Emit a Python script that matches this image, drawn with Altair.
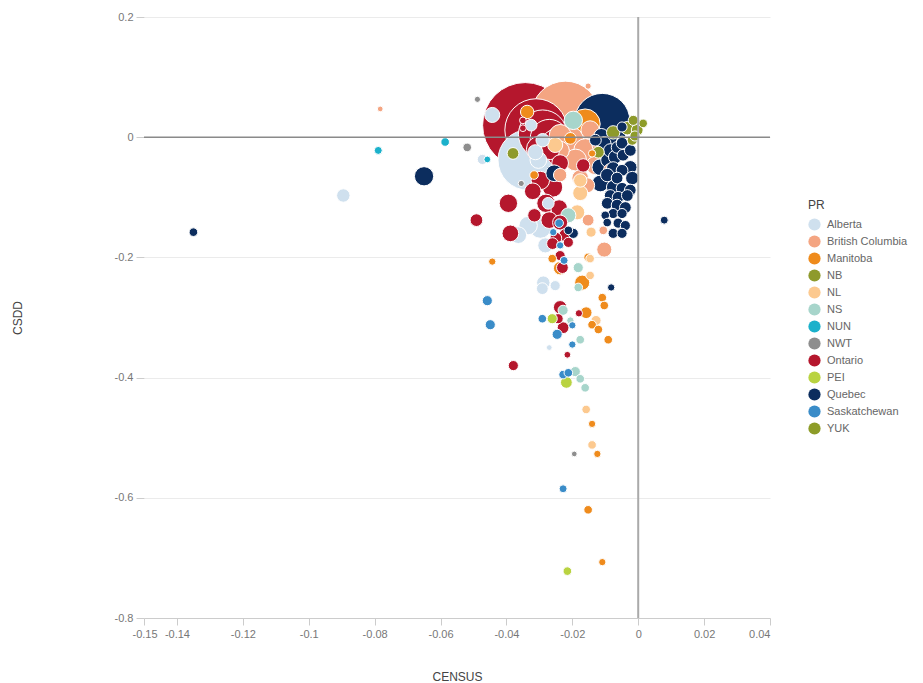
import altair as alt
import pandas as pd

# (CENSUS, CSDD, POP) per province
ALBERTA = [(-0.0334, -0.038, 1400), (-0.0443, 0.037, 78), (-0.0473, -0.037, 30), (-0.0895, -0.097, 60),
           (-0.0325, 0.020, 44), (-0.0312, -0.025, 78), (-0.0290, -0.005, 60), (-0.0297, -0.150, 175),
           (-0.0334, -0.147, 121), (-0.0364, -0.163, 98), (-0.0282, -0.180, 78), (-0.0288, -0.242, 60),
           (-0.0252, -0.247, 30), (-0.0291, -0.252, 44), (-0.0270, -0.350, 3), (-0.0303, -0.038, 98),
           (-0.0273, -0.110, 44)]
BRITISH_COLUMBIA = [(-0.0221, 0.037, 1760), (-0.0206, -0.005, 273), (-0.0160, -0.022, 205), (-0.0237, 0.003, 175),
                    (-0.0130, -0.047, 121), (-0.0190, -0.038, 175), (-0.0237, -0.022, 121), (-0.0115, -0.013, 98),
                    (-0.0146, 0.012, 121), (-0.0176, -0.068, 98), (-0.0085, -0.055, 60), (-0.0155, -0.080, 78),
                    (-0.0237, -0.063, 60), (-0.0152, -0.138, 44), (-0.0103, -0.187, 78), (-0.0152, 0.085, 5),
                    (-0.0783, 0.047, 3), (-0.0106, -0.155, 19)]
MANITOBA = [(-0.0443, -0.207, 11), (-0.0261, -0.202, 19), (-0.0237, -0.218, 60), (-0.0152, -0.200, 19),
            (-0.0170, -0.242, 78), (-0.0109, -0.267, 19), (-0.0103, -0.280, 19), (-0.0158, -0.292, 44),
            (-0.0140, -0.312, 19), (-0.0121, -0.320, 19), (-0.0091, -0.337, 19), (-0.0140, -0.477, 11),
            (-0.0124, -0.527, 11), (-0.0152, -0.620, 19), (-0.0109, -0.707, 11), (-0.0161, 0.022, 340),
            (-0.0337, 0.042, 60), (-0.0316, -0.063, 19), (-0.0140, -0.027, 11), (-0.0206, -0.002, 44)]
NB = [(-0.0076, 0.008, 60), (-0.0033, 0.015, 60), (-0.0015, 0.028, 30), (-0.0049, -0.008, 44),
      (-0.0018, -0.005, 30), (-0.0121, -0.025, 44), (-0.0380, -0.027, 44)]
NL = [(-0.0158, -0.453, 19), (-0.0140, -0.512, 19), (-0.0146, -0.202, 19), (-0.0146, -0.230, 19),
      (-0.0128, -0.305, 30), (-0.0176, -0.093, 78), (-0.0176, -0.072, 60), (-0.0185, -0.125, 78),
      (-0.0252, -0.013, 78), (-0.0143, -0.158, 30)]
NS = [(-0.0197, 0.028, 121), (-0.0212, -0.130, 78), (-0.0182, -0.217, 30), (-0.0182, -0.250, 19),
      (-0.0176, -0.337, 19), (-0.0206, -0.305, 11), (-0.0176, -0.402, 19), (-0.0161, -0.417, 19),
      (-0.0191, -0.390, 30), (-0.0228, -0.288, 30)]
NUN = [(-0.0789, -0.022, 15), (-0.0586, -0.008, 19), (-0.0458, -0.037, 8)]
NWT = [(-0.0519, -0.017, 19), (-0.0488, 0.063, 5), (-0.0355, -0.077, 5), (-0.0194, -0.527, 3)]
ONTARIO = [(-0.0343, 0.020, 2800), (-0.0310, 0.012, 1500), (-0.0290, 0.005, 900), (-0.0270, -0.002, 550),
           (-0.0250, -0.010, 300), (-0.0300, -0.020, 250), (-0.0240, -0.030, 200), (-0.0267, -0.022, 121),
           (-0.0237, -0.043, 98), (-0.0297, -0.072, 121), (-0.0260, -0.083, 150), (-0.0280, -0.110, 121),
           (-0.0240, -0.118, 98), (-0.0270, -0.138, 98), (-0.0237, -0.142, 78), (-0.0220, -0.163, 60),
           (-0.0250, -0.168, 44), (-0.0167, -0.047, 60), (-0.0394, -0.110, 121), (-0.0491, -0.138, 53),
           (-0.0388, -0.160, 98), (-0.0379, -0.380, 30), (-0.0215, -0.362, 8), (-0.0237, -0.283, 60),
           (-0.0228, -0.317, 44), (-0.0243, -0.302, 30), (-0.0260, -0.177, 44), (-0.0212, -0.175, 30),
           (-0.0237, -0.197, 30), (-0.0230, -0.217, 44), (-0.0180, -0.293, 11), (-0.0350, 0.028, 8),
           (-0.0350, 0.015, 8), (-0.0320, -0.090, 98), (-0.0315, -0.130, 60)]
PEI = [(-0.0218, -0.408, 44), (-0.0261, -0.302, 30), (-0.0215, -0.722, 19)]
QUEBEC = [(-0.0109, 0.027, 1168), (-0.1350, -0.158, 19), (-0.0650, -0.065, 134), (0.0079, -0.138, 15),
          (-0.0255, -0.060, 98), (-0.0197, -0.160, 30), (-0.0212, -0.155, 19), (-0.0082, -0.250, 11),
          (-0.0130, -0.005, 44), (-0.0049, 0.017, 30),
          (-0.0112, 0.002, 78), (-0.0103, -0.010, 60), (-0.0085, -0.022, 60), (-0.0064, -0.017, 44),
          (-0.0049, -0.010, 44), (-0.0091, -0.038, 78), (-0.0070, -0.033, 60), (-0.0046, -0.030, 44),
          (-0.0024, -0.022, 44), (-0.0115, -0.050, 98), (-0.0076, -0.052, 60), (-0.0049, -0.055, 44),
          (-0.0024, -0.050, 60), (-0.0094, -0.063, 60), (-0.0064, -0.068, 44), (-0.0018, -0.068, 60),
          (-0.0115, -0.077, 98), (-0.0076, -0.083, 60), (-0.0049, -0.085, 44), (-0.0024, -0.088, 44),
          (-0.0085, -0.097, 44), (-0.0061, -0.100, 44), (-0.0033, -0.097, 44), (-0.0094, -0.110, 44),
          (-0.0064, -0.113, 44), (-0.0039, -0.117, 44), (-0.0076, -0.127, 30), (-0.0049, -0.127, 30),
          (-0.0100, -0.130, 19), (-0.0061, -0.143, 30), (-0.0039, -0.147, 30), (-0.0076, -0.160, 30),
          (-0.0049, -0.160, 30), (-0.0094, -0.142, 19)]
SASKATCHEWAN = [(-0.0458, -0.272, 30), (-0.0449, -0.312, 30), (-0.0291, -0.302, 19), (-0.0246, -0.328, 30),
                (-0.0200, -0.345, 11), (-0.0228, -0.395, 19), (-0.0212, -0.392, 19), (-0.0237, -0.180, 11),
                (-0.0228, -0.585, 15), (-0.0240, -0.143, 19), (-0.0258, -0.158, 11), (-0.0225, -0.205, 15),
                (-0.0200, -0.313, 11)]
YUK = [(-0.0003, 0.012, 44), (0.0015, 0.023, 19), (-0.0010, 0.002, 30)]

PR_NAMES = ["Alberta", "British Columbia", "Manitoba", "NB", "NL", "NS", "NUN", "NWT",
            "Ontario", "PEI", "Quebec", "Saskatchewan", "YUK"]
PR_COLORS = ["#cfe0ee", "#f4a582", "#ef8b1c", "#8e9a2c", "#fcc98f", "#a7d5cb", "#1bb1cb", "#8e8e8e",
             "#b5172d", "#b9d341", "#0c2d5e", "#3a8cc8", "#8d9c28"]
PR_DATA = [ALBERTA, BRITISH_COLUMBIA, MANITOBA, NB, NL, NS, NUN, NWT, ONTARIO, PEI, QUEBEC, SASKATCHEWAN, YUK]

X_TICKS = [-0.15, -0.14, -0.12, -0.1, -0.08, -0.06, -0.04, -0.02, 0, 0.02, 0.04]
Y_TICKS = [0.2, 0, -0.2, -0.4, -0.6, -0.8]

rows = []
for name, pts in zip(PR_NAMES, PR_DATA):
    for cx, cy, pop in pts:
        rows.append({"PR": name, "CENSUS": cx, "CSDD": cy, "POP": pop})
df = pd.DataFrame(rows)

FONT = "Liberation Sans"

xenc = alt.X("CENSUS:Q",
             scale=alt.Scale(domain=[-0.15, 0.04], nice=False, zero=False),
             axis=alt.Axis(values=X_TICKS, labelExpr="'' + datum.value", grid=False,
                           domainColor="#cccccc", tickColor="#cccccc", tickSize=7,
                           labelPadding=3, labelColor="#777777", labelFontSize=11,
                           labelOverlap=False,
                           labelOffset={"condition": {"test": "datum.value == -0.15", "value": -12}, "value": 0},
                           titleColor="#444444", titleFontSize=12, titleFontWeight="normal",
                           titlePadding=32, title="CENSUS"))
yenc = alt.Y("CSDD:Q",
             scale=alt.Scale(domain=[-0.8, 0.2], nice=False, zero=False),
             axis=alt.Axis(values=Y_TICKS, labelExpr="'' + datum.value", grid=True,
                           gridColor="#ebebeb", domain=False, tickColor="#cccccc", tickSize=8,
                           labelPadding=3, labelColor="#777777", labelFontSize=11,
                           titleColor="#444444", titleFontSize=12, titleFontWeight="normal",
                           titlePadding=90, title="CSDD"))

points = alt.Chart(df).mark_circle(opacity=1, stroke="white", strokeWidth=1).encode(
    x=xenc,
    y=yenc,
    size=alt.Size("POP:Q", scale=alt.Scale(type="linear", domain=[0, 2800], range=[25, 7260]), legend=None),
    color=alt.Color("PR:N", scale=alt.Scale(domain=PR_NAMES, range=PR_COLORS),
                    legend=alt.Legend(title="PR", orient="none", legendX=664, legendY=183,
                                      symbolType="circle", symbolSize=150, symbolStrokeWidth=0,
                                      symbolOpacity=1, labelFontSize=11, labelColor="#666666",
                                      titleFontSize=12, titleFontWeight="normal", titleColor="#444444",
                                      titlePadding=6, rowPadding=4, labelOffset=6)),
    order=alt.Order("POP:Q", sort="descending"),
)

zero = pd.DataFrame({"CENSUS": [0], "CSDD": [0]})
vline = alt.Chart(zero).mark_rule(color="#aaaaaa", strokeWidth=2).encode(x="CENSUS:Q")
hline = alt.Chart(zero).mark_rule(color="#8a8a8a", strokeWidth=1.5).encode(y="CSDD:Q")

chart = alt.layer(points, vline, hline).properties(
    width=626, height=601,
    autosize=alt.AutoSizeParams(type="none"),
    padding={"left": 136, "top": 9, "right": 145, "bottom": 68},
).configure(font=FONT).configure_view(stroke=None)

chart.save("out.html", embed_options={"renderer": "svg", "actions": False})
